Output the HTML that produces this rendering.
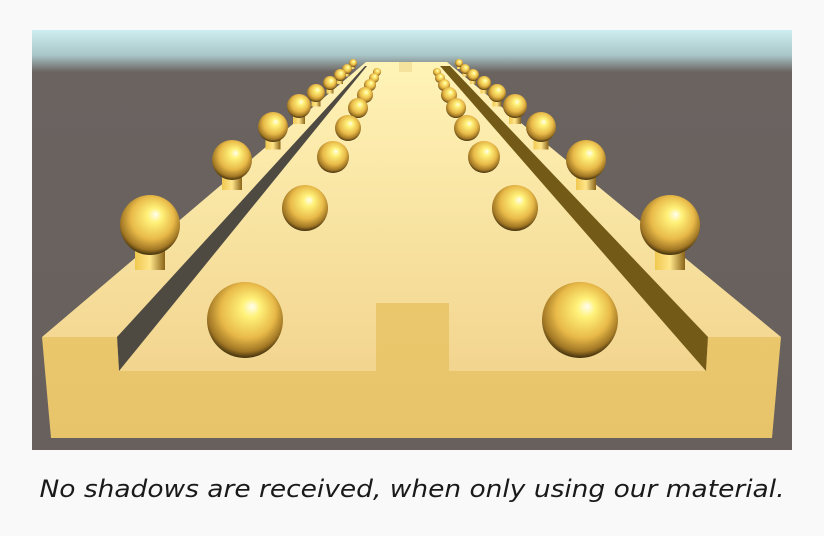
<!DOCTYPE html>
<html><head><meta charset="utf-8"><style>
html,body{margin:0;padding:0;background:#f9f9f9;}
svg{display:block;}
</style></head><body>
<svg width="824" height="536" viewBox="0 0 824 536">
<defs>
<linearGradient id="sky" x1="0" y1="0" x2="0" y2="1">
<stop offset="0" stop-color="#cdeef0"/><stop offset="0.06" stop-color="#a9c6c8"/><stop offset="0.1" stop-color="#6b6360"/><stop offset="1" stop-color="#67605c"/>
</linearGradient>
<linearGradient id="top" x1="0" y1="0" x2="0" y2="1">
<stop offset="0" stop-color="#fff3b6"/><stop offset="1" stop-color="#f2d58f"/>
</linearGradient>
<linearGradient id="front" x1="0" y1="0" x2="0" y2="1">
<stop offset="0" stop-color="#ebc76c"/><stop offset="1" stop-color="#e7c36a"/>
</linearGradient>
<radialGradient id="ball" cx="0.5" cy="0.42" r="0.6" fx="0.6" fy="0.32">
<stop offset="0" stop-color="#fffdf0"/><stop offset="0.2" stop-color="#fff27a"/><stop offset="0.6" stop-color="#e8b948"/><stop offset="0.85" stop-color="#a07624"/><stop offset="1" stop-color="#2a1e06"/>
</radialGradient>
<linearGradient id="stem" x1="0" y1="0" x2="1" y2="0">
<stop offset="0" stop-color="#f0c850"/><stop offset="0.5" stop-color="#ffe58a"/><stop offset="1" stop-color="#8a6418"/>
</linearGradient>
</defs>
<rect x="32" y="30" width="760" height="420" fill="url(#sky)"/>
<polygon points="42,337 117,337 119,371 706,371 708,337 781,337 447,62 366,62" fill="url(#top)"/>
<rect x="399" y="62" width="13" height="10" fill="#f5e29c"/>
<polygon points="117,337 119,371 367,66 365,66" fill="#4e4a42"/>
<polygon points="708,337 706,371 440,66 450,66" fill="#735a16"/>
<polygon points="42,337 117,337 119,371 376,371 376,303 449,303 449,371 706,371 708,337 781,337 772,438 51,438" fill="url(#front)"/>
<g id="balls"></g>
<text x="412" y="497" text-anchor="middle" textLength="745" lengthAdjust="spacingAndGlyphs" font-family="DejaVu Sans, Liberation Sans, sans-serif" font-style="italic" font-size="24" fill="#1a1a1a">No shadows are received, when only using our material.</text>
</svg>
<script>
const innerL=[[245,320,38],[305,208,23],[333,157,16],[348,128,13],[358,108,10],[365,95,8],[370,85,6],[374,78,5],[377,72,4]];
const innerR=[[580,320,38],[515,208,23],[484,157,16],[467,128,13],[456,108,10],[449,95,8],[444,85,6],[440,78,5],[437,72,4]];
const outerL=[[150,225,30],[232,160,20],[273,127,15],[299,106,12],[316,93,9],[330,83,7],[340,75,6],[347,69,5],[353,63,4]];
const outerR=[[670,225,30],[586,160,20],[541,127,15],[515,106,12],[497,93,9],[484,83,7],[473,75,6],[465,69,5],[459,63,4]];
const g=document.getElementById('balls');
const NS='http://www.w3.org/2000/svg';
function ball(b,stem){
 const [x,y,r]=b;
 if(stem){
  const s=document.createElementNS(NS,'rect');
  
  
  s.setAttribute('x',x-r*0.5);s.setAttribute('y',y);s.setAttribute('width',r);s.setAttribute('height',r*1.5);
  s.setAttribute('fill','url(#stem)');g.appendChild(s);
 }
 const c=document.createElementNS(NS,'circle');
 
 
 c.setAttribute('cx',x);c.setAttribute('cy',y);c.setAttribute('r',r);c.setAttribute('fill','url(#ball)');
 g.appendChild(c);
}
[...outerL,...outerR].reverse().forEach(b=>ball(b,true));
[...innerL,...innerR].reverse().forEach(b=>ball(b,false));
</script>
</body></html>
